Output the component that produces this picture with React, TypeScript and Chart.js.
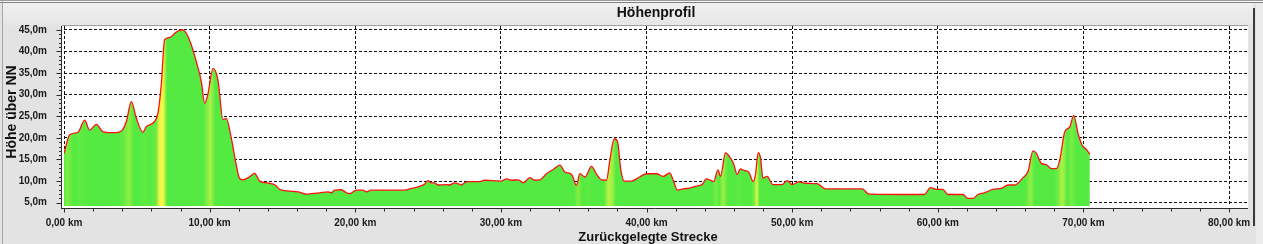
import React, { useEffect, useRef } from 'react';
import { Chart, registerables } from 'chart.js';

Chart.register(...registerables);

// ---------- data ----------
const distanceKm = [
  0, 0.39, 0.96, 1.42, 1.76, 2.22, 2.68, 3.48, 3.94, 4.28, 4.62, 4.97, 5.42, 5.65, 6.22, 6.45,
  6.68, 6.91, 7.25, 7.71, 8.12, 8.4, 8.74, 9.08, 9.43, 9.66, 9.89, 10.23, 10.57, 10.92, 11.14,
  11.49, 11.83, 12.06, 12.29, 12.75, 13.09, 13.43, 14.12, 14.5, 14.81, 15.5, 16.07, 16.64, 16.98,
  17.56, 18.13, 18.36, 18.59, 19.04, 19.39, 19.61, 20.07, 20.53, 20.76, 21.1, 23.39, 23.85, 24.42,
  24.76, 24.99, 25.22, 25.45, 25.68, 26.25, 26.48, 26.82, 27.05, 27.28, 27.51, 27.74, 28.54, 28.9,
  30, 30.39, 30.73, 31.19, 31.53, 31.99, 32.33, 32.68, 33.13, 33.59, 34.05, 34.39, 34.85, 35.19,
  35.42, 35.77, 36.22, 36.57, 36.91, 37.25, 37.48, 37.78, 38.01, 38.24, 38.47, 38.97, 39.54, 40.0,
  40.69, 41.14, 41.6, 41.83, 42.13, 42.52, 42.97, 43.36, 43.82, 44.1, 44.39, 44.62, 44.9, 45.08,
  45.42, 45.77, 46.0, 46.22, 46.45, 46.68, 47.03, 47.32, 47.48, 47.67, 47.83, 47.99, 48.28, 48.67,
  49.31, 49.66, 50.0, 50.46, 50.92, 51.72, 52.29, 54.81, 55.26, 59.08, 59.5, 59.89, 60.34, 60.69,
  61.72, 62.06, 62.41, 62.75, 63.21, 63.78, 64.36, 64.82, 65.28, 65.85, 66.19, 66.54, 66.77, 67.11,
  67.45, 67.8, 68.14, 68.37, 68.72, 69.06, 69.33, 69.63, 69.91, 70.21, 70.44,
];

const elevationM = [
  16.4, 20.7, 21.3, 24.1, 21.8, 23.1, 21.4, 21.2, 21.6, 23.8, 28.4, 24.5, 21.3, 22.6, 23.8, 25.7,
  32.3, 42.7, 43.2, 44.5, 45.0, 44.2, 41.5, 37.7, 33.0, 28.0, 30.3, 36.1, 33.4, 24.2, 24.5,
  19.9, 13.7, 10.6, 10.3, 11.0, 11.8, 10.0, 9.5, 9.1, 8.1, 7.7, 7.5, 7.0, 7.1,
  7.3, 7.5, 7.3, 7.9, 8.0, 7.3, 7.1, 7.9, 7.9, 7.5, 7.9, 7.9, 8.3, 8.8,
  9.3, 10.1, 9.6, 9.6, 9.1, 9.2, 9.1, 9.6, 9.4, 9.1, 9.6, 9.9, 9.9, 10.2,
  10.0, 10.5, 10.2, 10.3, 9.6, 10.8, 10.2, 10.3, 11.7, 12.7, 13.7, 12.1, 11.6, 9.0,
  11.7, 10.95, 13.4, 11.6, 10.3, 10.2, 14.8, 19.8, 19.1, 12.5, 10.0, 10.0, 11.0, 11.7,
  11.7, 11.1, 11.9, 10.2, 7.9, 8.2, 8.4, 8.8, 9.2, 10.5, 10.2, 9.9, 12.6, 11.1,
  16.5, 15.3, 13.8, 11.5, 12.8, 12.5, 12.0, 9.9, 11.5, 16.6, 15.3, 10.7, 11.1, 9.2,
  9.2, 10.1, 9.2, 9.8, 9.5, 9.4, 8.2, 8.2, 7.0, 6.9, 8.5, 8.1, 8.1, 6.9,
  6.9, 6.0, 6.0, 6.9, 7.3, 8.1, 8.3, 9.1, 9.1, 10.8, 12.2, 17.0, 16.4, 14.1,
  13.8, 12.9, 12.9, 14.8, 21.4, 22.5, 25.2, 21.0, 18.3, 17.3, 16.2,
];

const xTickValues = [0, 10, 20, 30, 40, 50, 60, 70, 80];
const xTickLabels = ['0,00 km', '10,00 km', '20,00 km', '30,00 km', '40,00 km', '50,00 km', '60,00 km', '70,00 km', '80,00 km'];
const yTickValues = [5, 10, 15, 20, 25, 30, 35, 40, 45];
const yTickLabels = ['5,0m', '10,0m', '15,0m', '20,0m', '25,0m', '30,0m', '35,0m', '40,0m', '45,0m'];

const chartTitle = 'Höhenprofil';
const xAxisTitle = 'Zurückgelegte Strecke';
const yAxisTitle = 'Höhe über NN';

// ---------- layout / style ----------
const W = 1263;
const H = 244;
const X_MIN = 0;
const X_MAX = 81.3;
const Y_MIN = 4.24;
const Y_MAX = 45.88;
const FONT = '"Liberation Sans", Arial, sans-serif';
const GREEN = [84, 234, 66];
const YELLOW = [250, 246, 70];

const mix = (t: number) => {
  const c = GREEN.map((g, i) => Math.round(g + (YELLOW[i] - g) * t));
  return `rgb(${c[0]},${c[1]},${c[2]})`;
};

const fillGradient = (context: any) => {
  const chart = context.chart;
  const area = chart.chartArea;
  const xs = chart.scales && chart.scales.x;
  if (!area || !xs) return mix(0);
  const g = chart.ctx.createLinearGradient(area.left, 0, area.right, 0);
  const span = area.right - area.left;
  const off = (px: number) => Math.min(1, Math.max(0, (px - area.left) / span));
  g.addColorStop(0, mix(0));
  for (let i = 0; i < distanceKm.length - 1; i++) {
    const slope = (elevationM[i + 1] - elevationM[i]) / (distanceKm[i + 1] - distanceKm[i]);
    const t = Math.min(1, Math.max(0, (slope - 4) / 26));
    const mid = (distanceKm[i] + distanceKm[i + 1]) / 2;
    g.addColorStop(off(xs.getPixelForValue(mid)), mix(t));
  }
  g.addColorStop(1, mix(0));
  return g;
};

const decor = {
  id: 'decor',
  beforeDraw(chart: any) {
    const { ctx, chartArea: a } = chart;
    ctx.save();
    ctx.fillStyle = '#e3e3e3';
    ctx.fillRect(0, 0, W, H);
    const g = ctx.createLinearGradient(0, 3, 0, 25);
    g.addColorStop(0, '#f0f0f0');
    g.addColorStop(1, '#e6e6e6');
    ctx.fillStyle = g;
    ctx.fillRect(3, 3, 1250, 22);
    ctx.fillStyle = '#9c9c9c';
    ctx.fillRect(0, 0, W, 1);
    ctx.fillStyle = '#fafafa';
    ctx.fillRect(0, 1, W, 1);
    ctx.fillStyle = '#808080';
    ctx.fillRect(0, 2, W, 1);
    ctx.fillStyle = '#a6a6a6';
    ctx.fillRect(2, 0, 1, H);
    ctx.fillStyle = '#ececec';
    ctx.fillRect(1256, 3, 7, H);
    ctx.fillStyle = '#3a3a3a';
    ctx.fillRect(1253, 8, 2, 218);
    ctx.fillStyle = '#ffffff';
    ctx.fillRect(62, a.top, a.right - 62, 209 - a.top);
    ctx.restore();
  },
  afterDraw(chart: any) {
    const { ctx, chartArea: a } = chart;
    const xs = chart.scales.x;
    const ys = chart.scales.y;
    ctx.save();
    ctx.lineWidth = 1;
    ctx.setLineDash([]);
    ctx.strokeStyle = '#a0a0a0';
    ctx.beginPath();
    ctx.moveTo(62, Math.round(a.top) - 0.5);
    ctx.lineTo(a.right, Math.round(a.top) - 0.5);
    ctx.stroke();

    ctx.strokeStyle = '#2b2b2b';
    ctx.beginPath();
    ctx.moveTo(61.5, a.top);
    ctx.lineTo(61.5, 209);
    for (let v = 5; v <= 45; v += 1) {
      const y = Math.round(ys.getPixelForValue(v)) + 0.5;
      const len = v % 5 === 0 ? 5 : 2.5;
      ctx.moveTo(61.5 - len, y);
      ctx.lineTo(61.5, y);
    }
    ctx.moveTo(61, 208.5);
    ctx.lineTo(a.right, 208.5);
    for (let v = 0; v <= 80; v += 2) {
      const x = Math.round(xs.getPixelForValue(v)) + 0.5;
      const len = v % 10 === 0 ? 4 : 3;
      ctx.moveTo(x, 208.5);
      ctx.lineTo(x, 208.5 + len);
    }
    ctx.stroke();

    ctx.fillStyle = '#111111';
    ctx.textAlign = 'center';
    ctx.textBaseline = 'middle';
    ctx.font = `bold 14px ${FONT}`;
    ctx.fillText(chartTitle, (a.left + a.right) / 2, 13);
    ctx.font = `bold 13px ${FONT}`;
    ctx.fillText(xAxisTitle, 648, 237);
    ctx.translate(12, 112);
    ctx.rotate(-Math.PI / 2);
    ctx.font = `bold 14px ${FONT}`;
    ctx.fillText(yAxisTitle, 0, 0);
    ctx.restore();
  },
};

export default function App() {
  const ref = useRef<HTMLCanvasElement | null>(null);

  useEffect(() => {
    const canvas = ref.current;
    if (!canvas) return;
    const points = distanceKm.map((x, i) => ({ x, y: elevationM[i] }));
    const chart = new Chart(canvas, {
      type: 'line',
      data: {
        datasets: [
          {
            label: yAxisTitle,
            data: points,
            borderColor: '#ff1010',
            borderWidth: 1.3,
            pointRadius: 0,
            cubicInterpolationMode: 'monotone',
            fill: 'start',
            backgroundColor: fillGradient,
          },
        ],
      },
      options: {
        responsive: false,
        animation: false,
        events: [],
        layout: { padding: { left: 0, right: 15, top: 26, bottom: 0 }, autoPadding: false },
        plugins: { legend: { display: false }, title: { display: false }, tooltip: { enabled: false } },
        scales: {
          x: {
            type: 'linear',
            min: X_MIN,
            max: X_MAX,
            z: 1,
            afterBuildTicks: (axis: any) => {
              axis.ticks = xTickValues.map((value) => ({ value }));
            },
            afterFit: (axis: any) => {
              axis.height = 38;
            },
            grid: { color: '#111111', lineWidth: 1, drawTicks: false },
            border: { display: false, dash: [3, 2] },
            ticks: {
              padding: 11,
              color: '#1a1a1a',
              font: { family: FONT, size: 10, weight: 'bold' },
              maxRotation: 0,
              autoSkip: false,
              callback: (value: any) => xTickLabels[xTickValues.indexOf(Number(value))] ?? '',
            },
          },
          y: {
            type: 'linear',
            min: Y_MIN,
            max: Y_MAX,
            z: 1,
            afterBuildTicks: (axis: any) => {
              axis.ticks = yTickValues.map((value) => ({ value }));
            },
            afterFit: (axis: any) => {
              axis.width = 64;
            },
            grid: { color: '#111111', lineWidth: 1, drawTicks: false },
            border: { display: false, dash: [3, 2] },
            ticks: {
              padding: 17,
              color: '#1a1a1a',
              font: { family: FONT, size: 10, weight: 'bold' },
              autoSkip: false,
              callback: (value: any) => yTickLabels[yTickValues.indexOf(Number(value))] ?? '',
            },
          },
        },
      },
      plugins: [decor],
    });
    return () => chart.destroy();
  }, []);

  return (
    <div style={{ position: 'fixed', left: 0, top: 0, width: W, height: H, background: '#e3e3e3' }}>
      <canvas ref={ref} width={W} height={H} style={{ display: 'block', width: W, height: H }} />
    </div>
  );
}
